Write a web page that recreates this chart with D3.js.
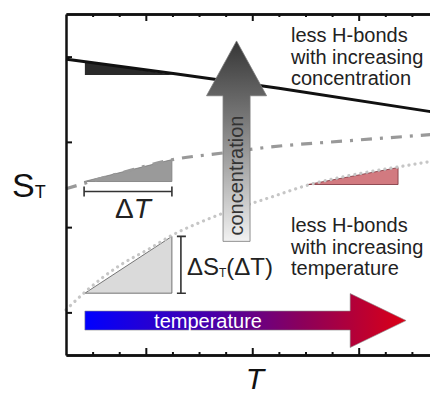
<!DOCTYPE html>
<html>
<head>
<meta charset="utf-8">
<script src="https://cdn.jsdelivr.net/npm/d3@7"></script>
<style>
  body { margin: 0; background: #fff; }
  svg text { font-family: Arial, "Liberation Sans", sans-serif; }
</style>
</head>
<body>
<svg id="chart"></svg>
<script>
const w = 430, h = 396;
const margins = {top: 14, right: 0, bottom: 41, left: 66};

// curves as [T, S_T] in axis units
const concLine = [[0, 2.97], [4.1, 2.80], [8, 2.63], [13.7, 2.355]];
const dashLine = [[0, 1.45], [2, 1.63], [3.98, 1.79], [5.9, 1.87], [7.67, 1.94], [10.68, 2.015], [13.7, 2.085]];
const dotLine = [[0, 0.03], [0.71, 0.237], [2.03, 0.553], [3.16, 0.751], [3.98, 0.904], [5.04, 1.056],
                 [5.98, 1.172], [7.67, 1.348], [9.17, 1.5], [11.05, 1.629], [12.56, 1.71], [13.7, 1.77]];

// slope triangles: [T0, T1, S low, S high]
const triBlack = [0.71, 4.1, 2.785, 2.94];
const triGrey = [0.68, 3.98, 1.535, 1.792];
const triLight = [0.71, 3.98, 0.225, 0.892];
const triRed = [9.1, 12.48, 1.5, 1.699];

// ticks
const minorTicks = [1, 2, 4, 5, 6, 8, 9, 10, 12, 13];
const majorTicks = [3, 7, 11];
const yTicks = [0, 1, 2, 3];

// arrows (axis units)
const concArrow = {x: 6.41, y0: 0.833, yHead: 2.541, yTip: 3.184};
const tempArrow = {y: -0.096, x0: 0.71, xHead: 10.68, xTip: 12.78};

const svg = d3.select('#chart').attr('width', w).attr('height', h);

const xScale = d3.scaleLinear().domain([0, 13.68]).range([margins.left, w - margins.right]);
const yScale = d3.scaleLinear().domain([-0.5, 3.5]).range([h - margins.bottom, margins.top]);

const defs = svg.append('defs');
const gConc = defs.append('linearGradient').attr('id', 'gConc')
  .attr('x1', 0).attr('y1', 0).attr('x2', 0).attr('y2', 1);
gConc.append('stop').attr('offset', '0%').attr('stop-color', '#363636');
gConc.append('stop').attr('offset', '40%').attr('stop-color', '#7a7a7a');
gConc.append('stop').attr('offset', '100%').attr('stop-color', '#f2f2f2');

const gTemp = defs.append('linearGradient').attr('id', 'gTemp')
  .attr('x1', 0).attr('y1', 0).attr('x2', 1).attr('y2', 0);
gTemp.append('stop').attr('offset', '0%').attr('stop-color', '#0000ff');
gTemp.append('stop').attr('offset', '40%').attr('stop-color', '#4a00a8');
gTemp.append('stop').attr('offset', '68%').attr('stop-color', '#8c005a');
gTemp.append('stop').attr('offset', '100%').attr('stop-color', '#dc0015');

const line = d3.line().x(d => xScale(d[0])).y(d => yScale(d[1])).curve(d3.curveMonotoneX);
const straight = d3.line().x(d => xScale(d[0])).y(d => yScale(d[1]));

// triangles
function rising(t) {
  return [[t[0], t[2]], [t[1], t[3]], [t[1], t[2]]];
}
function falling(t) {
  return [[t[0], t[3]], [t[0], t[2]], [t[1], t[2]]];
}

svg.append('path').attr('d', straight(falling(triBlack)) + 'Z')
  .style('fill', '#2a2a2a');
svg.append('path').attr('d', straight(rising(triGrey)) + 'Z')
  .style('fill', '#9a9a9a').style('stroke', '#7a7a7a').style('stroke-width', 0.8);
svg.append('path').attr('d', straight(rising(triLight)) + 'Z')
  .style('fill', '#dadada').style('stroke', '#555').style('stroke-width', 0.8);
svg.append('path').attr('d', straight(rising(triRed)) + 'Z')
  .style('fill', '#d27a80').style('stroke', '#7a3038').style('stroke-width', 0.8);

// curves
svg.append('path').attr('d', line(dotLine))
  .style('fill', 'none').style('stroke', '#c6c6c6').style('stroke-width', 3.2)
  .style('stroke-linecap', 'round').style('stroke-dasharray', '0.1,6');
svg.append('path').attr('d', line(dashLine))
  .style('fill', 'none').style('stroke', '#999').style('stroke-width', 3.2)
  .style('stroke-dasharray', '11,8,3,8');
svg.append('path').attr('d', line(concLine))
  .style('fill', 'none').style('stroke', '#111').style('stroke-width', 3);

// ΔT bracket
const bT = yScale(triGrey[2]) + 10;
svg.append('path')
  .attr('d', `M${xScale(triGrey[0])},${bT - 5}V${bT + 5}M${xScale(triGrey[0])},${bT}H${xScale(triGrey[1])}M${xScale(triGrey[1])},${bT - 5}V${bT + 5}`)
  .style('fill', 'none').style('stroke', '#333').style('stroke-width', 1.6);
const dT = svg.append('text')
  .attr('x', (xScale(triGrey[0]) + xScale(triGrey[1])) / 2 + 5)
  .attr('y', bT + 26)
  .attr('text-anchor', 'middle')
  .style('font-size', '28px').style('fill', '#222');
dT.append('tspan').text('Δ');
dT.append('tspan').style('font-style', 'italic').text('T');

// ΔS bracket
const bS = xScale(triLight[1]) + 9;
svg.append('path')
  .attr('d', `M${bS - 4},${yScale(triLight[3])}H${bS + 5}M${bS},${yScale(triLight[3])}V${yScale(triLight[2])}M${bS - 4},${yScale(triLight[2])}H${bS + 5}`)
  .style('fill', 'none').style('stroke', '#333').style('stroke-width', 1.6);
const dS = svg.append('text')
  .attr('x', bS + 6)
  .attr('y', 275)
  .style('font-size', '24px').style('fill', '#222');
dS.append('tspan').text('ΔS');
dS.append('tspan').attr('dy', 2).style('font-size', '12px').text('T');
dS.append('tspan').attr('dy', -2).text('(ΔT)');

// concentration arrow
const cx = xScale(concArrow.x);
const concPath = `M${cx - 13.5},${yScale(concArrow.y0)}V${yScale(concArrow.yHead)}H${cx - 30}L${cx},${yScale(concArrow.yTip)}L${cx + 30},${yScale(concArrow.yHead)}H${cx + 13.5}V${yScale(concArrow.y0)}Z`;
svg.append('path').attr('d', concPath)
  .style('fill', 'url(#gConc)').style('stroke', '#777').style('stroke-width', 0.8);
svg.append('text')
  .attr('transform', `translate(${cx + 6.5}, ${(yScale(concArrow.y0) + yScale(concArrow.yHead)) / 2 + 7}) rotate(-90)`)
  .attr('text-anchor', 'middle')
  .style('font-size', '20px').style('fill', '#333')
  .text('concentration');

// temperature arrow
const ty = yScale(tempArrow.y);
const tempPath = `M${xScale(tempArrow.x0)},${ty - 9.5}H${xScale(tempArrow.xHead)}V${ty - 27}L${xScale(tempArrow.xTip)},${ty}L${xScale(tempArrow.xHead)},${ty + 27}V${ty + 9.5}H${xScale(tempArrow.x0)}Z`;
svg.append('path').attr('d', tempPath)
  .style('fill', 'url(#gTemp)').style('stroke', '#888').style('stroke-width', 0.6);
svg.append('text')
  .attr('x', 208).attr('y', ty + 7)
  .attr('text-anchor', 'middle')
  .style('font-size', '20px').style('fill', '#fff')
  .text('temperature');

// notes
const notes = [
  {y: 42, lines: ['less H-bonds', 'with increasing', 'concentration']},
  {y: 232, lines: ['less H-bonds', 'with increasing', 'temperature']}
];
notes.forEach(n => {
  svg.append('text')
    .attr('x', 291).attr('y', n.y)
    .style('font-size', '20px').style('fill', '#222')
    .selectAll('tspan').data(n.lines).join('tspan')
    .attr('x', 291).attr('dy', (d, i) => i === 0 ? 0 : 21.5)
    .text(d => d);
});

// AXES
function styleAxis(g, width) {
  g.selectAll('path.domain').style('stroke', '#111').style('stroke-width', width);
  g.selectAll('line').style('stroke', '#111').style('stroke-width', 2);
  g.selectAll('text').remove();
}
const yb = h - margins.bottom, yt = margins.top;
svg.append('g').attr('transform', `translate(0, ${yb})`)
  .call(d3.axisBottom(xScale).tickValues(minorTicks).tickSizeInner(-3).tickSizeOuter(0))
  .call(g => styleAxis(g, 2.5));
svg.append('g').attr('transform', `translate(0, ${yb})`)
  .call(d3.axisBottom(xScale).tickValues(majorTicks).tickSizeInner(-7).tickSizeOuter(0))
  .call(g => styleAxis(g, 2.5));
svg.append('g').attr('transform', `translate(0, ${yt})`)
  .call(d3.axisTop(xScale).tickValues(minorTicks).tickSizeInner(-3).tickSizeOuter(0))
  .call(g => styleAxis(g, 2.5));
svg.append('g').attr('transform', `translate(0, ${yt})`)
  .call(d3.axisTop(xScale).tickValues(majorTicks).tickSizeInner(-7).tickSizeOuter(0))
  .call(g => styleAxis(g, 2.5));
svg.append('g').attr('transform', `translate(${margins.left}, 0)`)
  .call(d3.axisLeft(yScale).tickValues(yTicks).tickSizeInner(-6).tickSizeOuter(0))
  .call(g => styleAxis(g, 2.5));

// axis labels
const yl = svg.append('text').attr('x', 12).attr('y', 197)
  .style('font-size', '34px').style('fill', '#111');
yl.append('tspan').text('S');
yl.append('tspan').attr('dy', 1).style('font-size', '18px').text('T');

svg.append('text').attr('x', 255).attr('y', 389)
  .attr('text-anchor', 'middle')
  .style('font-size', '30px').style('font-style', 'italic').style('fill', '#111')
  .text('T');
</script>
</body>
</html>
